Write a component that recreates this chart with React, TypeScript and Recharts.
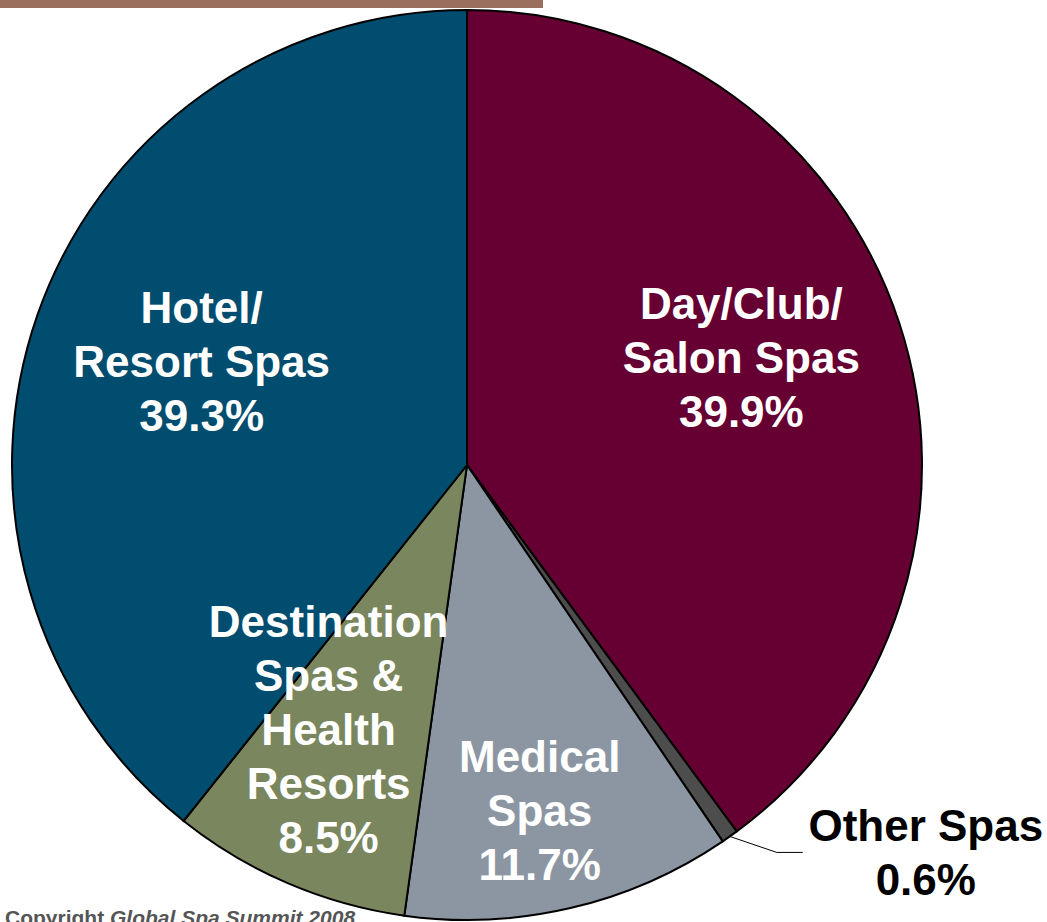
import React from 'react';
import { PieChart, Pie, Cell } from 'recharts';

const categories = [
  'Day/Club/Salon Spas',
  'Other Spas',
  'Medical Spas',
  'Destination Spas & Health Resorts',
  'Hotel/Resort Spas',
];
const labelLines = [
  ['Day/Club/', 'Salon Spas'],
  ['Other Spas'],
  ['Medical', 'Spas'],
  ['Destination', 'Spas &', 'Health', 'Resorts'],
  ['Hotel/', 'Resort Spas'],
];
const shares = [39.9, 0.6, 11.7, 8.5, 39.3];
const colors = ['#660033', '#4d4d4d', '#8c96a3', '#7a865e', '#004d6f'];
const copyright = ['Copyright ', 'Global Spa Summit', ' 2008'];

const data = categories.map((name, i) => ({ name, value: shares[i] }));

const FONT = '"Liberation Sans", Arial, Helvetica, sans-serif';
const FS = 44;
const LH = 54;
const CAP = 31;
const RAD = Math.PI / 180;

const placement = [
  { f: 0.63, dx: 2, dy: -18, outside: false },
  { f: 1, dx: 0, dy: 0, outside: true },
  { f: 0.78, dx: -8, dy: 0, outside: false },
  { f: 0.66, dx: -20, dy: -11, outside: false },
  { f: 0.62, dx: 1, dy: -10, outside: false },
];

const renderLabel = (props: any) => {
  const { cx, cy, midAngle, outerRadius, index } = props;
  const cfg = placement[index];
  const lines = [...labelLines[index], `${shares[index].toFixed(1)}%`];
  const cos = Math.cos(-midAngle * RAD);
  const sin = Math.sin(-midAngle * RAD);
  if (cfg.outside) {
    const sx = cx + outerRadius * cos;
    const sy = cy + outerRadius * sin;
    const ex = sx + 47;
    const ey = sy + 16;
    const hx = ex + 26;
    const tx = hx + 123;
    const first = ey - ((lines.length - 1) / 2) * LH + CAP / 2;
    return (
      <g key={`lab-${index}`}>
        <polyline points={`${sx},${sy} ${ex},${ey} ${hx},${ey}`} fill="none" stroke="#000" strokeWidth={1} />
        <text textAnchor="middle" fontFamily={FONT} fontWeight="bold" fontSize={FS} fill="#000">
          {lines.map((l, i) => (
            <tspan key={i} x={tx} y={first + i * LH}>{l}</tspan>
          ))}
        </text>
      </g>
    );
  }
  const r = outerRadius * cfg.f;
  const x = cx + r * cos + cfg.dx;
  const y = cy + r * sin + cfg.dy;
  const first = y - ((lines.length - 1) / 2) * LH + CAP / 2;
  return (
    <text key={`lab-${index}`} textAnchor="middle" fontFamily={FONT} fontWeight="bold" fontSize={FS} fill="#fff">
      {lines.map((l, i) => (
        <tspan key={i} x={x} y={first + i * LH}>{l}</tspan>
      ))}
    </text>
  );
};

export default function App() {
  return (
    <div style={{ position: 'absolute', left: 0, top: 0, width: 1047, height: 922, overflow: 'hidden', background: '#fff' }}>
      <div style={{ position: 'absolute', left: 0, top: 0, width: 543, height: 8, background: '#9b6f5e' }} />
      <div style={{ position: 'absolute', left: 0, top: 0 }}>
        <PieChart width={1047} height={922} margin={{ top: 0, right: 0, bottom: 0, left: 0 }}>
          <Pie
            data={data}
            dataKey="value"
            nameKey="name"
            cx={467}
            cy={465}
            innerRadius={0}
            outerRadius={455}
            startAngle={90}
            endAngle={-270}
            stroke="#000"
            strokeWidth={2}
            label={renderLabel}
            labelLine={false}
            isAnimationActive={false}
          >
            {data.map((d, i) => (
              <Cell key={d.name} fill={colors[i]} />
            ))}
          </Pie>
        </PieChart>
      </div>
      <div
        style={{
          position: 'absolute',
          left: 5,
          top: 906,
          fontFamily: FONT,
          fontWeight: 'bold',
          fontSize: 21,
          lineHeight: '24px',
          color: '#555',
          whiteSpace: 'nowrap',
        }}
      >
        {copyright[0]}
        <i>{copyright[1]}</i>
        <i>{copyright[2]}</i>
      </div>
    </div>
  );
}
